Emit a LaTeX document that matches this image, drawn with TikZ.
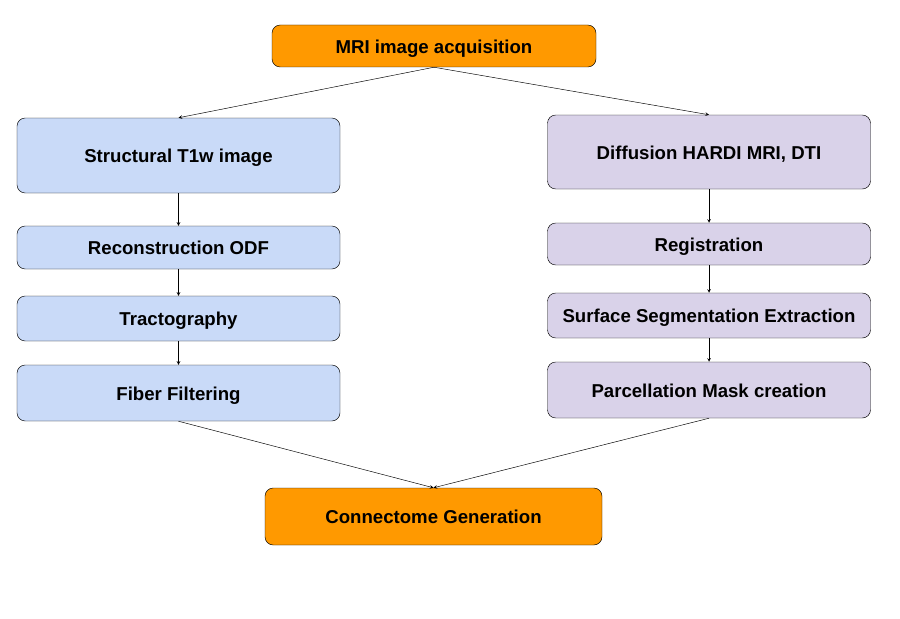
\documentclass[tikz,border=0pt]{standalone}
\usepackage{fontspec}
\setmainfont{Liberation Sans}
\definecolor{accent}{HTML}{FF9900}
\definecolor{structblue}{HTML}{C9DAF8}
\definecolor{diffpurple}{HTML}{D9D2E9}
\tikzset{
	stage/.style={draw=black, rounded corners=7pt, minimum width=323*0.03cm, align=center, text height=12.5pt, text depth=0pt, font=\bfseries\fontsize{15.9}{18}\selectfont},
	main/.style={stage, fill=accent},
	struct/.style={stage, fill=structblue},
	diff/.style={stage, fill=diffpurple},
}
\begin{document}
\begin{tikzpicture}[x=0.03cm, y=-0.03cm, >=stealth]
		\useasboundingbox (0,0) rectangle (900,618);
		\node[main, minimum width=324*0.03cm, minimum height=42*0.03cm] (mri) at (434,46) {MRI image acquisition};
		\node[struct, minimum height=75*0.03cm] (t1w) at (178.5,155.5) {Structural T1w image};
		\node[struct, minimum height=43*0.03cm] (odf) at (178.5,247.5) {Reconstruction ODF};
		\node[struct, minimum height=45*0.03cm] (tract) at (178.5,318.5) {Tractography};
		\node[struct, minimum height=56*0.03cm] (fiber) at (178.5,393) {Fiber Filtering};
		\node[diff, minimum height=74*0.03cm] (hardi) at (709,152) {Diffusion HARDI MRI, DTI};
		\node[diff, minimum height=42*0.03cm] (reg) at (709,244) {Registration};
		\node[diff, minimum height=45*0.03cm] (surf) at (709,315.5) {Surface Segmentation Extraction};
		\node[diff, minimum height=56*0.03cm] (parc) at (709,390) {Parcellation Mask creation};
		\node[main, minimum width=337*0.03cm, minimum height=57*0.03cm] (conn) at (433.5,516.5) {Connectome Generation};
		% arrows
		\draw[->] (mri.south) -- (t1w.north);
		\draw[->] (mri.south) -- (hardi.north);
		\foreach \a/\b in {t1w/odf, odf/tract, tract/fiber, hardi/reg, reg/surf, surf/parc}
		\draw[->] (\a) -- (\b);
		\draw[->] (fiber.south) -- (conn.north);
		\draw[->] (parc.south) -- (conn.north);
	\end{tikzpicture}
\end{document}
